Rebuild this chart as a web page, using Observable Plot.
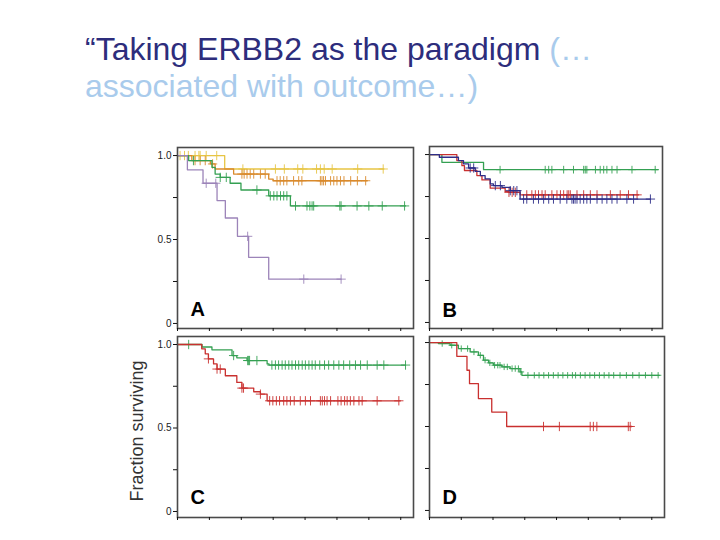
<!DOCTYPE html>
<html>
<head>
<meta charset="utf-8">
<script src="https://cdn.jsdelivr.net/npm/d3@7"></script>
<script src="https://cdn.jsdelivr.net/npm/@observablehq/plot@0.6"></script>
<style>
  html, body { margin: 0; padding: 0; background: #fff; }
  #root { position: relative; width: 720px; height: 540px; overflow: hidden; background: #fff; font-family: "Liberation Sans", Arial, sans-serif; }
  #title { position: absolute; left: 85px; top: 31px; font-size: 32px; line-height: 37px; white-space: nowrap; }
  .dark { color: #2d2d7c; }
  .light { color: #a9cbec; }
  .panel { position: absolute; }
</style>
</head>
<body>
<div id="root">
  <div id="title"><span class="dark">“Taking ERBB2 as the paradigm</span> <span class="light">(…</span><br><span class="light">associated with outcome…)</span></div>
</div>
<script>
// ---- tick values / labels ----
const yTickValues = [0, 0.25, 0.5, 0.75, 1];
const yTickLabels = ["0", "", "0.5", "", "1.0"];
const xTickValues = [0, 1, 2, 3, 4, 5, 6, 7];
const panelLetters = ["A", "B", "C", "D"];
const yAxisTitle = "Fraction surviving";

// ---- Panel A ----
const aYellowT = [0, 1.48, 6.47];
const aYellowS = [1.0, 0.92, 0.92];
const aYellowC = [0.08, 0.22, 0.34, 0.55, 0.67, 0.71, 0.90, 1.23, 2.05, 3.07, 3.35, 3.77, 3.93, 4.36, 4.48, 4.60, 4.85, 5.65, 6.45];
const aOrangeT = [0, 0.45, 1.03, 1.18, 1.76, 2.86, 3.00, 5.95];
const aOrangeS = [1.0, 0.97, 0.95, 0.92, 0.89, 0.86, 0.85, 0.85];
const aOrangeC = [0.55, 0.71, 0.87, 1.10, 2.02, 2.09, 2.18, 2.28, 2.39, 2.60, 2.75, 3.12, 3.22, 3.33, 3.43, 3.64, 3.80, 3.90, 4.48, 4.53, 4.58, 4.64, 4.80, 4.90, 5.00, 5.11, 5.22, 5.43, 5.64, 5.90];
const aGreenT = [0, 0.35, 1.08, 1.18, 1.34, 1.65, 1.99, 2.86, 3.54, 7.15];
const aGreenS = [1.0, 0.97, 0.93, 0.89, 0.87, 0.835, 0.795, 0.76, 0.70, 0.70];
const aGreenC = [0.50, 1.34, 1.53, 2.49, 2.91, 3.02, 3.12, 3.23, 3.33, 3.43, 3.70, 4.06, 4.15, 4.22, 4.27, 5.09, 5.13, 5.63, 6.00, 6.42, 7.12];
const aPurpleT = [0, 0.31, 0.80, 1.24, 1.50, 1.88, 2.23, 2.86, 5.13];
const aPurpleS = [1.0, 0.915, 0.835, 0.732, 0.628, 0.519, 0.394, 0.264, 0.264];
const aPurpleC = [0.90, 1.20, 2.20, 3.96, 5.13];

// ---- Panel B ----
const bGreenT = [0, 0.39, 1.70, 7.18];
const bGreenS = [1.0, 0.954, 0.91, 0.91];
const bGreenC = [2.22, 3.64, 3.75, 3.85, 4.22, 4.53, 4.85, 4.90, 4.95, 5.22, 5.37, 5.48, 5.58, 5.74, 5.90, 6.37, 7.10];
const bRedT = [0, 0.86, 1.02, 1.10, 1.49, 1.65, 1.91, 2.38, 2.49, 2.85, 6.58];
const bRedS = [1.0, 0.964, 0.934, 0.905, 0.875, 0.849, 0.80, 0.78, 0.775, 0.76, 0.76];
const bRedC = [2.50, 2.60, 2.70, 3.06, 3.22, 3.33, 3.43, 3.54, 3.64, 3.85, 4.01, 4.12, 4.22, 4.33, 4.38, 4.43, 4.64, 4.85, 5.06, 5.27, 5.69, 6.00, 6.26, 6.53];
const bBlueT = [0, 0.31, 0.91, 1.07, 1.23, 1.44, 1.60, 1.75, 1.91, 2.01, 2.28, 2.54, 2.85, 6.95];
const bBlueS = [1.0, 0.984, 0.964, 0.944, 0.92, 0.90, 0.875, 0.855, 0.825, 0.815, 0.805, 0.785, 0.735, 0.735];
const bBlueC = [1.28, 1.39, 2.07, 2.23, 2.54, 2.65, 2.75, 2.96, 3.06, 3.27, 3.43, 3.59, 3.75, 3.90, 4.11, 4.32, 4.48, 4.53, 4.58, 4.64, 4.74, 4.85, 4.95, 5.06, 5.27, 5.43, 5.58, 5.74, 5.90, 6.21, 6.42, 6.95];

// ---- Panel C ----
const cGreenT = [0, 0.77, 1.08, 1.71, 1.86, 2.18, 2.81, 2.87, 7.15];
const cGreenS = [1.0, 0.985, 0.968, 0.934, 0.92, 0.904, 0.884, 0.877, 0.877];
const cGreenC = [0.35, 1.76, 2.20, 2.23, 2.26, 2.49, 2.96, 3.07, 3.17, 3.28, 3.38, 3.49, 3.59, 3.70, 3.80, 3.91, 4.01, 4.12, 4.22, 4.32, 4.46, 4.61, 4.74, 4.90, 5.06, 5.21, 5.40, 5.58, 5.74, 5.95, 6.26, 6.47, 7.15];
const cRedT = [0, 0.76, 0.87, 0.97, 1.13, 1.24, 1.50, 1.86, 2.02, 2.39, 2.60, 2.81, 6.99];
const cRedS = [1.0, 0.974, 0.944, 0.914, 0.884, 0.853, 0.813, 0.773, 0.739, 0.717, 0.703, 0.663, 0.663];
const cRedC = [0.97, 1.24, 1.34, 2.02, 2.07, 2.60, 2.89, 2.99, 3.10, 3.20, 3.33, 3.43, 3.54, 3.66, 3.85, 4.01, 4.17, 4.48, 4.54, 4.61, 4.69, 4.80, 5.03, 5.13, 5.24, 5.32, 5.42, 5.53, 5.69, 5.79, 6.26, 6.94];

// ---- Panel D ----
const dGreenT = [0, 0.28, 0.65, 0.91, 1.28, 1.54, 1.70, 1.86, 2.01, 2.28, 2.54, 2.85, 2.91, 7.24];
const dGreenS = [1.0, 0.994, 0.984, 0.964, 0.944, 0.924, 0.895, 0.879, 0.865, 0.855, 0.845, 0.825, 0.805, 0.805];
const dGreenC = [0.40, 0.70, 1.00, 1.20, 1.40, 1.60, 1.75, 1.90, 2.05, 2.15, 2.22, 2.35, 2.45, 2.60, 2.70, 2.80, 2.88, 3.10, 3.30, 3.45, 3.60, 3.75, 3.90, 4.05, 4.20, 4.35, 4.50, 4.60, 4.75, 4.90, 5.05, 5.20, 5.35, 5.50, 5.65, 5.80, 6.00, 6.20, 6.40, 6.60, 6.80, 7.00, 7.20];
const dRedT = [0, 0.86, 1.18, 1.26, 1.54, 1.96, 2.43, 6.37];
const dRedS = [1.0, 0.918, 0.835, 0.755, 0.666, 0.586, 0.50, 0.50];
const dRedC = [3.59, 4.09, 5.06, 5.16, 5.27, 6.26, 6.32];

// ---- colours ----
const cYellow = "#e7c544", cOrange = "#d98a2c", cGreen = "#34a052", cPurple = "#9c84b9";
const cRed = "#c9302f", cBlue = "#2e2e88";

function curve(T, S, C, color, r) {
  const rows = T.map((t, i) => ({t, s: S[i]}));
  const stepAt = c => { let s = S[0]; for (let i = 0; i < T.length; i++) if (T[i] <= c) s = S[i]; return s; };
  const cens = C.map(c => ({t: c, s: stepAt(c)}));
  return [
    Plot.line(rows, {x: "t", y: "s", curve: "step-after", stroke: color, strokeWidth: 1.3}),
    Plot.dot(cens, {x: "t", y: "s", symbol: "plus", r: r ?? 3.1, stroke: color, strokeWidth: 0.9})
  ];
}

function panel(opts) {
  const {left, top, width, height, ml, mr, mt, mb, xMax, yDom, letter, showY, series, yTitle} = opts;
  const marks = [];
  for (const s of series) marks.push(...curve(...s));
  marks.push(Plot.frame({stroke: "#4a4a4a", strokeWidth: 1.6}));
  marks.push(Plot.axisY(yTickValues, {
    tickFormat: d => showY ? yTickLabels[yTickValues.indexOf(d)] : "",
    tickSize: 4, tickPadding: 2, fontSize: 10, label: null, stroke: "#111"
  }));
  marks.push(Plot.axisX(xTickValues, {tickFormat: () => "", tickSize: 3, label: null, stroke: "#111"}));
  marks.push(Plot.text([letter], {frameAnchor: "bottom-left", dx: 13, dy: opts.letterDy, fontSize: 20, fontWeight: "bold", textAnchor: "start", lineAnchor: "bottom", fill: "#000", fontFamily: "Liberation Sans, Arial, sans-serif"}));
  if (yTitle) marks.push(Plot.text([yTitle], {frameAnchor: "left", rotate: -90, dx: -40, dy: 4, fontSize: 18, fill: "#333", textAnchor: "middle", lineAnchor: "middle", fontFamily: "Liberation Sans, Arial, sans-serif"}));
  const svg = Plot.plot({
    width, height, marginLeft: ml, marginRight: mr, marginTop: mt, marginBottom: mb,
    x: {domain: [0, xMax]},
    y: {domain: yDom},
    style: {background: "transparent", overflow: "visible", fontFamily: "Liberation Sans, Arial, sans-serif", color: "#222"},
    marks
  });
  svg.classList.add("panel");
  svg.style.position = "absolute";
  svg.style.left = left + "px";
  svg.style.top = top + "px";
  document.getElementById("root").appendChild(svg);
}

panel({left: 120, top: 138, width: 300, height: 197, ml: 57, mr: 7, mt: 9, mb: 7, xMax: 7.4, yDom: [-0.030, 1.048], letter: panelLetters[0], letterDy: -13, showY: true,
  series: [[aYellowT, aYellowS, aYellowC, cYellow], [aOrangeT, aOrangeS, aOrangeC, cOrange], [aGreenT, aGreenS, aGreenC, cGreen], [aPurpleT, aPurpleS, aPurpleC, cPurple]]});
panel({left: 420, top: 138, width: 250, height: 197, ml: 9, mr: 8, mt: 8, mb: 7, xMax: 7.33, yDom: [-0.036, 1.048], letter: panelLetters[1], letterDy: -12, showY: false,
  series: [[bGreenT, bGreenS, bGreenC, cGreen, 2.6], [bRedT, bRedS, bRedC, cRed], [bBlueT, bBlueS, bBlueC, cBlue]]});
panel({left: 120, top: 328, width: 300, height: 197, ml: 57, mr: 7, mt: 8, mb: 8, xMax: 7.4, yDom: [-0.036, 1.048], letter: panelLetters[2], letterDy: -14, showY: true, yTitle: yAxisTitle,
  series: [[cGreenT, cGreenS, cGreenC, cGreen], [cRedT, cRedS, cRedC, cRed]]});
panel({left: 420, top: 328, width: 250, height: 197, ml: 9, mr: 6, mt: 8, mb: 8, xMax: 7.4, yDom: [-0.042, 1.036], letter: panelLetters[3], letterDy: -14, showY: false,
  series: [[dGreenT, dGreenS, dGreenC, cGreen, 2.2], [dRedT, dRedS, dRedC, cRed]]});
</script>
</body>
</html>
